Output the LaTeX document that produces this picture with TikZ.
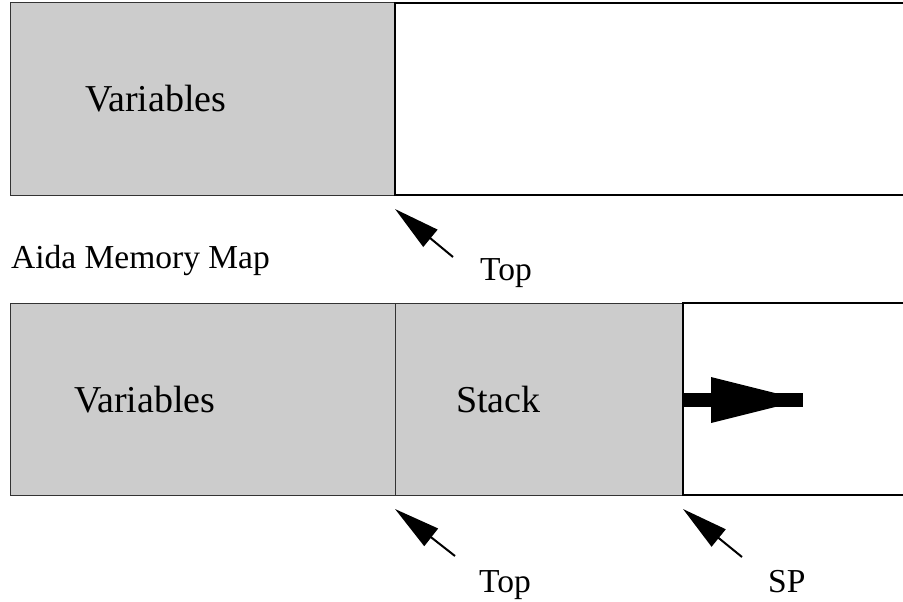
\documentclass[tikz,border=0pt]{standalone}
\usepackage{fontspec}
\setmainfont{Liberation Serif}
\usepackage{xcolor}
\definecolor{memgray}{HTML}{CCCCCC}
\definecolor{memline}{HTML}{333333}
\usetikzlibrary{arrows.meta}

\begin{document}
\begin{tikzpicture}[x=1pt, y=-1pt,
    used/.style={draw=memline, line width=1pt, fill=memgray, inner sep=0pt, outer sep=0pt, minimum height=192pt, anchor=north west},
    free/.style={draw=black, line width=2.5pt, fill=white, inner sep=0pt, outer sep=0pt, minimum width=600pt, minimum height=192pt, anchor=north west},
    bigtext/.style={font=\fontsize{38}{40}\selectfont, anchor=base west, inner sep=0pt},
    smalltext/.style={font=\fontsize{33.5}{36}\selectfont, anchor=base west, inner sep=0pt},
    ptr/.style={line width=2pt, -{Triangle[length=46pt,width=22pt]}}]
    \useasboundingbox (0,0) rectangle (903,602);
    \clip (0,0) rectangle (903,602);
    % Aida memory map
    \node[used, minimum width=385pt] (varsA) at (10,3) {};
    \node[free] (freeA) at (395,3) {}; % runs off the right edge
    \node[bigtext] (varsAtext) at (85,111) {Variables};
    \node[smalltext] (title) at (11,268) {Aida Memory Map};
    \node[smalltext] (topAtext) at (480,280) {Top};
    \coordinate (topAtail) at (453,257);
    \draw[ptr] (topAtail) -- ([yshift=-14pt]varsA.south east);
    % with the stack
    \node[used, minimum width=385pt] (varsB) at (10,303) {};
    \node[used, minimum width=288pt] (stackB) at (395,303) {};
    \node[free] (freeB) at (683,303) {};
    \node[bigtext] (varsBtext) at (74,412) {Variables};
    \node[bigtext] (stacktext) at (456,412) {Stack};
    \node[smalltext] (topBtext) at (479,592) {Top};
    \node[smalltext] (sptext) at (768,592) {SP};
    \coordinate (topBtail) at (455,556);
    \coordinate (sptail) at (742,557);
    \draw[ptr] (topBtail) -- ([yshift=-14pt]varsB.south east);
    \draw[ptr] (sptail) -- ([yshift=-14pt]stackB.south east);
    % stack grows to the right
    \coordinate (growend) at (803,400);
    \draw[line width=14pt] (freeB.west |- growend) -- (growend);
    \fill (growend) -- ++(-92,-23) -- ++(0,46) -- cycle;
\end{tikzpicture}
\end{document}
